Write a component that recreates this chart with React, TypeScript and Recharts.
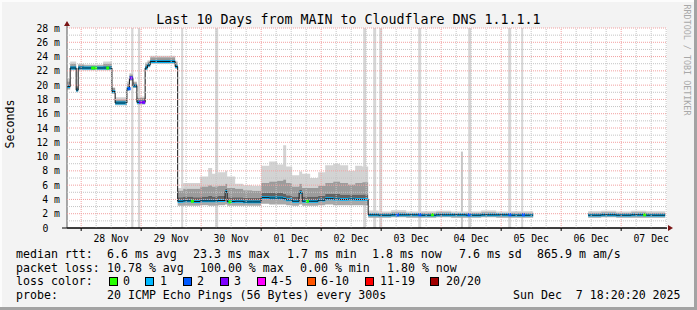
import React from 'react'
import {
  ComposedChart,
  Area,
  Line,
  Scatter,
  XAxis,
  YAxis,
  ReferenceArea,
  ReferenceLine,
  ReferenceDot,
} from 'recharts'

// x is hours since 28 Nov 00:00; the graph runs Nov 27 18:20 .. Dec 7 18:20
const X_MIN = -5.667
const X_MAX = 234.333

const hours = [
  -5.6, -4.4, -2.0, -1.2, 1.2, 8.8, 12.3, 13.6, 18.3, 19.3, 20.7, 22.3, 25.6, 26.5, 27.6, 37.6,
  38.6, 40.8, 44.8, 47.6, 50.8, 52.4, 54.8, 57.6, 58.4, 61.6, 64.8, 68.4, 72.0, 75.2, 78.4, 80.8,
  82.0, 84.4, 87.2, 88.4, 91.6, 94.8, 97.6, 100.8, 103.6, 106.8, 109.6, 112.4,
  114.8, 119.0, 124.0, 130.0, 136.0, 142.0, 148.0, 154.0, 160.0, 166.0, 172.0, 180.8, 181.0,
  202.8, 208.0, 214.0, 220.0, 226.0, 233.6,
]
// median rtt in ms
const median: (number | null)[] = [
  19.8, 22.4, 19.3, 22.4, 22.4, 22.4, 19.1, 17.5, 19.5, 21.0, 19.9, 17.6, 22.4, 22.8, 23.3, 22.6,
  3.75, 3.8, 3.7, 3.8, 3.8, 3.8, 3.85, 5.1, 3.7, 3.75, 3.65, 3.65, 4.25, 4.2, 4.2, 4.1,
  3.95, 3.75, 4.95, 3.75, 3.75, 3.9, 4.1, 4.05, 4.0, 4.05, 4.0, 4.0,
  1.85, 1.8, 1.85, 1.85, 1.8, 1.85, 1.85, 1.8, 1.85, 1.85, 1.8, 1.8, null,
  1.8, 1.85, 1.8, 1.85, 1.8, 1.8,
]
// lowest ping of the slot
const low: (number | null)[] = [
  19.4, 22.1, 19.0, 22.1, 22.1, 22.1, 18.8, 17.2, 19.2, 20.6, 19.6, 17.3, 22.1, 22.5, 23.0, 22.3,
  3.1, 3.1, 3.1, 3.2, 3.1, 3.1, 3.2, 3.3, 3.1, 3.1, 3.1, 3.1, 3.4, 3.3, 3.3, 3.3,
  3.2, 3.1, 3.3, 3.1, 3.1, 3.2, 3.3, 3.2, 3.2, 3.2, 3.2, 3.2,
  1.45, 1.45, 1.5, 1.45, 1.45, 1.5, 1.45, 1.45, 1.5, 1.45, 1.45, 1.45, null,
  1.45, 1.5, 1.45, 1.45, 1.45, 1.45,
]
// top of the densest smoke, just above the median
const dark: (number | null)[] = [
  20.1, 22.7, 19.6, 22.7, 22.6, 22.7, 19.4, 17.8, 19.8, 21.3, 20.2, 17.9, 22.7, 23.1, 23.6, 22.9,
  4.3, 4.4, 4.3, 4.4, 4.5, 4.4, 4.5, 5.5, 4.3, 4.3, 4.2, 4.2, 4.9, 4.9, 4.9, 4.8,
  4.6, 4.4, 5.4, 4.4, 4.4, 4.5, 4.8, 4.8, 4.7, 4.7, 4.7, 4.7,
  2.0, 1.95, 2.0, 1.95, 1.95, 2.0, 1.95, 1.95, 2.0, 1.95, 1.95, 1.95, null,
  1.95, 2.0, 1.95, 2.0, 1.95, 1.95,
]
// top of the medium smoke
const mid: (number | null)[] = [
  20.5, 23.0, 19.8, 22.9, 22.8, 23.0, 19.6, 18.0, 20.2, 21.5, 20.4, 18.2, 23.0, 23.3, 23.9, 23.2,
  5.2, 5.5, 5.5, 5.8, 6.0, 5.8, 5.9, 6.2, 5.6, 5.5, 5.3, 5.2, 6.3, 6.5, 6.6, 6.8,
  6.3, 5.8, 6.2, 5.6, 5.6, 5.9, 6.3, 6.5, 6.3, 6.1, 6.3, 6.4,
  2.15, 2.1, 2.2, 2.1, 2.15, 2.2, 2.1, 2.1, 2.2, 2.1, 2.15, 2.15, null,
  2.15, 2.2, 2.1, 2.2, 2.15, 2.15,
]
// highest ping of the slot
const high: (number | null)[] = [
  21.0, 23.3, 20.0, 23.0, 22.9, 23.3, 19.7, 18.3, 20.5, 21.7, 20.5, 18.4, 23.2, 23.5, 24.1, 23.4,
  5.6, 6.3, 6.3, 7.2, 8.4, 7.6, 7.8, 8.0, 7.2, 6.2, 6.0, 5.9, 8.7, 9.3, 8.9, 11.6,
  8.6, 7.4, 7.9, 7.6, 7.0, 7.8, 8.8, 9.0, 8.8, 8.0, 8.7, 8.6,
  2.45, 2.3, 2.5, 2.3, 2.35, 2.4, 2.3, 2.3, 2.45, 2.3, 2.35, 2.35, null,
  2.35, 2.4, 2.3, 2.4, 2.35, 2.35,
]

// slots where some pings went off the chart
const spikeStart = [20.0, 22.7, 40.0, 53.6, 112.8, 116.8, 119.2, 134.8, 151.9, 154.8, 170.8, 176.0]
const spikeEnd = [20.9, 23.6, 40.8, 54.8, 114.0, 118.0, 120.4, 136.0, 152.7, 156.0, 172.0, 176.8]
const spikeTop = [28, 28, 28, 28, 28, 28, 28, 28, 10.7, 28, 28, 28]

// median segments whose loss colour is not "1"
const lossHours = [4.4, 5.6, 10.4, 19.0, 19.8, 23.6, 24.8, 44.3, 59.3, 90.3, 126.3, 135.3, 140.3, 155.0, 171.3, 176.7, 225.2]
const lossValues = [22.4, 22.4, 22.4, 19.5, 21.0, 17.6, 17.6, 3.75, 3.65, 3.75, 1.85, 1.85, 1.85, 1.85, 1.85, 1.85, 1.85]
const lossLevels = [0, 0, 0, 2, 3, 3, 3, 0, 0, 0, 2, 2, 0, 2, 2, 2, 0]

const dayLabels = ['28 Nov', '29 Nov', '30 Nov', '01 Dec', '02 Dec', '03 Dec', '04 Dec', '05 Dec', '06 Dec', '07 Dec']
const yTicks = [0, 2, 4, 6, 8, 10, 12, 14, 16, 18, 20, 22, 24, 26, 28]

const LOSS_COLORS = ['#26ff00', '#00b8ff', '#0059ff', '#7e00ff', '#ff00ff', '#ff5500', '#ff0000', '#a10000']
const LOSS_LABELS = ['0', '1', '2', '3', '4-5', '6-10', '11-19', '20/20']
const LOSS_BOX_X = [109, 145, 183, 220, 257, 307, 365, 430]
const LOSS_LABEL_X = [123, 160, 197, 234, 271, 321, 380, 446]

const MONO = "'DejaVu Sans Mono', monospace"
const LINE_HALF = 0.2
const PINK = '#f2a0a0'
const GREY = '#c4c4c4'
const W = 697
const H = 310

const rows = hours.map((h, i) => {
  const m = median[i]
  if (m == null) {
    return { h, med: null, lowBand: null, darkBand: null, midBand: null, lightBand: null, band: null }
  }
  return {
    h,
    med: m,
    lowBand: [low[i], m],
    darkBand: [m, dark[i]],
    midBand: [dark[i], mid[i]],
    lightBand: [mid[i], high[i]],
    band: [m - LINE_HALF, m + LINE_HALF],
  }
})

const lossRows = lossHours.map((h, i) => ({ h, v: lossValues[i], level: lossLevels[i] }))

const xTicks: number[] = []
for (let t = 0; t <= 228; t += 12) xTicks.push(t)
const vGrid: number[] = []
for (let t = 0; t <= 234; t += 6) vGrid.push(t)
const hGrid: number[] = []
for (let v = 1; v <= 28; v++) hGrid.push(v)

function XTick(props: any) {
  const { x, y, payload } = props
  const v = payload.value
  if (v % 24 === 12) {
    return (
      <text x={x} y={y + 14} textAnchor="middle" fontFamily={MONO} fontSize={9.8} fill="#000">
        {dayLabels[(v - 12) / 24]}
      </text>
    )
  }
  return <line x1={x} x2={x} y1={y} y2={y + 3} stroke="#000" />
}

function YTick(props: any) {
  const { x, y, payload } = props
  const v = payload.value
  return (
    <text x={v === 0 ? x - 18.5 : x - 7} y={y + 3.6} textAnchor="end" fontFamily={MONO} fontSize={9.8} fill="#000">
      {v === 0 ? '0' : `${v} m`}
    </text>
  )
}

// rrdtool paints the grid over the smoke, so it lives in its own chart on top
function GridOverlay() {
  return (
    <ComposedChart width={W} height={H} data={rows} margin={{ top: 28, right: 30, bottom: 82, left: 67 }}>
      <XAxis dataKey="h" type="number" domain={[X_MIN, X_MAX]} allowDataOverflow hide />
      <YAxis type="number" domain={[0, 28]} allowDataOverflow hide />
      {vGrid.map((t) => (
        <ReferenceLine key={'vx' + t} x={t} stroke={t % 24 === 0 ? PINK : GREY} strokeDasharray="1 1" />
      ))}
      {hGrid.map((v) => (
        <ReferenceLine key={'hy' + v} y={v} stroke={v % 2 === 0 ? PINK : GREY} strokeDasharray="1 1" />
      ))}
    </ComposedChart>
  )
}

export default function App() {
  return (
    <div
      style={{
        position: 'fixed',
        left: 0,
        top: 0,
        width: W,
        height: H,
        background: '#f3f3f3',
        overflow: 'hidden',
      }}
    >
      <div style={{ position: 'absolute', left: 0, top: 0, width: W, height: 2, background: '#fcfcfc' }} />
      <div style={{ position: 'absolute', left: 0, top: 0, width: 2, height: H, background: '#fcfcfc' }} />
      <div style={{ position: 'absolute', left: 0, top: 307, width: W, height: 3, background: '#a3a3a3' }} />
      <div style={{ position: 'absolute', left: 694, top: 0, width: 3, height: H, background: '#a3a3a3' }} />

      <div style={{ position: 'absolute', left: 0, top: 0 }}>
        <ComposedChart width={W} height={H} data={rows} margin={{ top: 28, right: 30, bottom: 62, left: 17 }}>
          <XAxis
            dataKey="h"
            type="number"
            domain={[X_MIN, X_MAX]}
            allowDataOverflow
            ticks={xTicks}
            interval={0}
            tick={<XTick />}
            tickLine={false}
            tickSize={0}
            tickMargin={0}
            height={20}
            axisLine={{ stroke: '#000' }}
          />
          <YAxis
            type="number"
            domain={[0, 28]}
            allowDataOverflow
            ticks={yTicks}
            interval={0}
            tick={<YTick />}
            tickLine={false}
            tickSize={0}
            tickMargin={0}
            width={50}
            axisLine={{ stroke: '#555' }}
          />

          <ReferenceArea x1={X_MIN} x2={X_MAX} y1={0} y2={28} fill="#ffffff" fillOpacity={1} stroke="none" />
          {spikeStart.map((s, i) => (
            <ReferenceArea
              key={'sp' + i}
              x1={s}
              x2={spikeEnd[i]}
              y1={0}
              y2={spikeTop[i]}
              fill={spikeTop[i] < 28 ? '#c6c6c6' : '#d6d6d6'}
              fillOpacity={1}
              stroke="none"
            />
          ))}

          <Area dataKey="lightBand" type="stepAfter" fill="#d3d3d3" fillOpacity={1} stroke="none" isAnimationActive={false} />
          <Area dataKey="midBand" type="stepAfter" fill="#9c9c9c" fillOpacity={1} stroke="none" isAnimationActive={false} />
          <Area dataKey="darkBand" type="stepAfter" fill="#636363" fillOpacity={1} stroke="none" isAnimationActive={false} />
          <Area dataKey="lowBand" type="stepAfter" fill="#a8a8a8" fillOpacity={1} stroke="none" isAnimationActive={false} />

          <Line dataKey="med" type="stepAfter" stroke="#111" strokeWidth={1} dot={false} isAnimationActive={false} />
          <Area dataKey="band" type="stepAfter" fill={LOSS_COLORS[1]} fillOpacity={1} stroke="none" isAnimationActive={false} />
          <Scatter
            data={lossRows}
            dataKey="v"
            isAnimationActive={false}
            shape={(p: any) => (
              <rect x={p.cx - 1} y={p.cy - 1.5} width={3} height={3} fill={LOSS_COLORS[p.payload.level]} />
            )}
          />
        </ComposedChart>
      </div>

      <div style={{ position: 'absolute', left: 0, top: 0, pointerEvents: 'none' }}>
        <GridOverlay />
      </div>

      <div style={{ position: 'absolute', left: 0, top: 0, pointerEvents: 'none' }}>
        <ComposedChart width={W} height={H} data={rows} margin={{ top: 28, right: 30, bottom: 82, left: 67 }}>
          <XAxis dataKey="h" type="number" domain={[X_MIN, X_MAX]} allowDataOverflow hide />
          <YAxis type="number" domain={[0, 28]} allowDataOverflow hide />
          <ReferenceDot
            x={X_MAX}
            y={0}
            shape={(p: any) => (
              <polygon points={`${p.cx + 1},${p.cy - 3} ${p.cx + 6},${p.cy} ${p.cx + 1},${p.cy + 3}`} fill="#7a1414" />
            )}
          />
          <ReferenceDot
            x={X_MIN}
            y={0}
            shape={(p: any) => <line x1={p.cx - 5} x2={p.cx + 600} y1={p.cy} y2={p.cy} stroke="#000" />}
          />
          <ReferenceDot
            x={X_MIN}
            y={28}
            shape={(p: any) => (
              <g>
                <line x1={p.cx} x2={p.cx} y1={p.cy} y2={p.cy - 3} stroke="#555" />
                <polygon points={`${p.cx - 3},${p.cy - 2} ${p.cx},${p.cy - 7} ${p.cx + 3},${p.cy - 2}`} fill="#7a1414" />
              </g>
            )}
          />
        </ComposedChart>
      </div>

      <svg width={W} height={H} style={{ position: 'absolute', left: 0, top: 0, pointerEvents: 'none' }} fontFamily={MONO}>
        <text x={348.5} y={24} textAnchor="middle" fontSize={13.3} fill="#000">
          Last 10 Days from MAIN to Cloudflare DNS 1.1.1.1
        </text>
        <text transform="translate(14,124) rotate(-90)" textAnchor="middle" fontSize={11.6} fill="#000">
          Seconds
        </text>
        <text transform="translate(684,60) rotate(90)" textAnchor="middle" fontSize={8.4} fill="#a8a8a8">
          RRDTOOL / TOBI OETIKER
        </text>

        <g fontSize={11.6} fill="#000">
          <text x={16} y={258}>median rtt:</text>
          <text x={107} y={258}>6.6 ms avg</text>
          <text x={193} y={258}>23.3 ms max</text>
          <text x={287} y={258}>1.7 ms min</text>
          <text x={372} y={258}>1.8 ms now</text>
          <text x={459} y={258}>7.6 ms sd</text>
          <text x={537} y={258}>865.9 m am/s</text>

          <text x={16} y={271.5}>packet loss:</text>
          <text x={107} y={271.5}>10.78 % avg</text>
          <text x={200} y={271.5}>100.00 % max</text>
          <text x={300} y={271.5}>0.00 % min</text>
          <text x={387} y={271.5}>1.80 % now</text>

          <text x={16} y={285}>loss color:</text>
          {LOSS_LABELS.map((l, i) => (
            <g key={l}>
              <rect x={LOSS_BOX_X[i] + 0.5} y={277.5} width={8} height={8} fill={LOSS_COLORS[i]} stroke="#000" />
              <text x={LOSS_LABEL_X[i]} y={285}>{l}</text>
            </g>
          ))}

          <text x={16} y={299}>probe:</text>
          <text x={107} y={299}>20 ICMP Echo Pings (56 Bytes) every 300s</text>
          <text x={513} y={299} xmlSpace="preserve">{'Sun Dec  7 18:20:20 2025'}</text>
        </g>
      </svg>
    </div>
  )
}
